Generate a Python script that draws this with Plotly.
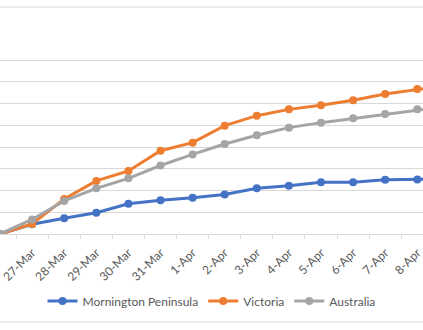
import plotly.graph_objects as go

dates = ["26-Mar", "27-Mar", "28-Mar", "29-Mar", "30-Mar", "31-Mar", "1-Apr", "2-Apr",
         "3-Apr", "4-Apr", "5-Apr", "6-Apr", "7-Apr", "8-Apr", "9-Apr"]
mornington = [0.0, 0.45, 0.72, 0.98, 1.39, 1.55, 1.67, 1.82, 2.10, 2.22, 2.38, 2.38, 2.50, 2.51, 2.52]
victoria = [0.0, 0.46, 1.61, 2.44, 2.90, 3.83, 4.20, 4.98, 5.44, 5.73, 5.92, 6.15, 6.44, 6.67, 6.85]
australia = [0.0, 0.67, 1.52, 2.10, 2.56, 3.15, 3.66, 4.14, 4.54, 4.89, 5.12, 5.32, 5.52, 5.73, 5.88]
grid_vals = [0, 1, 2, 3, 4, 5, 6, 7, 8]
# first category's label lies entirely outside the cropped view in the reference
tick_text = [""] + dates[1:]

series = [
    ("Mornington Peninsula", mornington, "#4472C4"),
    ("Victoria", victoria, "#ED7D31"),
    ("Australia", australia, "#A5A5A5"),
]

fig = go.Figure()
for name, vals, col in series:
    fig.add_trace(go.Scatter(
        x=dates, y=vals, name=name, mode="lines+markers",
        line=dict(color=col, width=3),
        marker=dict(color=col, size=8, symbol="circle"),
    ))

W, H = 423, 330
plot_bottom = 234  # pixel y of the x axis
unit_px = 21.75

fig.update_layout(
    width=W, height=H,
    margin=dict(l=0, r=0, t=0, b=H - plot_bottom, pad=0, autoexpand=False),
    paper_bgcolor="white", plot_bgcolor="white",
    font=dict(family="Lato, Open Sans, sans-serif", size=12, color="#595959"),
    showlegend=True,
    legend=dict(orientation="h", x=0.5, xanchor="center",
                y=(plot_bottom - 301) / plot_bottom, yanchor="middle",
                font=dict(size=12, color="#595959"), itemwidth=30,
                traceorder="normal", bgcolor="rgba(0,0,0,0)"),
    xaxis=dict(type="category", range=[0, W / 32.1], showgrid=False, automargin=False,
               tickmode="array", tickvals=dates, ticktext=tick_text,
               tickson="boundaries", ticks="outside", ticklen=4, tickcolor="#d9d9d9",
               showline=True, linecolor="#d9d9d9", linewidth=1,
               tickangle=-45, tickfont=dict(size=12, color="#595959"),
               ticklabelstandoff=6,
               zeroline=False, fixedrange=True),
    yaxis=dict(range=[0, plot_bottom / unit_px], tickvals=grid_vals, showticklabels=False,
               showgrid=True, gridcolor="#d9d9d9", gridwidth=1, automargin=False,
               zeroline=False, showline=False, ticks="", fixedrange=True),
    shapes=[
        dict(type="line", xref="paper", yref="paper", x0=0, x1=1,
             y0=(plot_bottom - 7) / plot_bottom, y1=(plot_bottom - 7) / plot_bottom,
             line=dict(color="#d9d9d9", width=1)),
        dict(type="line", xref="paper", yref="paper", x0=0, x1=1,
             y0=(plot_bottom - 322) / plot_bottom, y1=(plot_bottom - 322) / plot_bottom,
             line=dict(color="#d9d9d9", width=1)),
    ],
)

fig.write_html("out.html", config={"displayModeBar": False})
